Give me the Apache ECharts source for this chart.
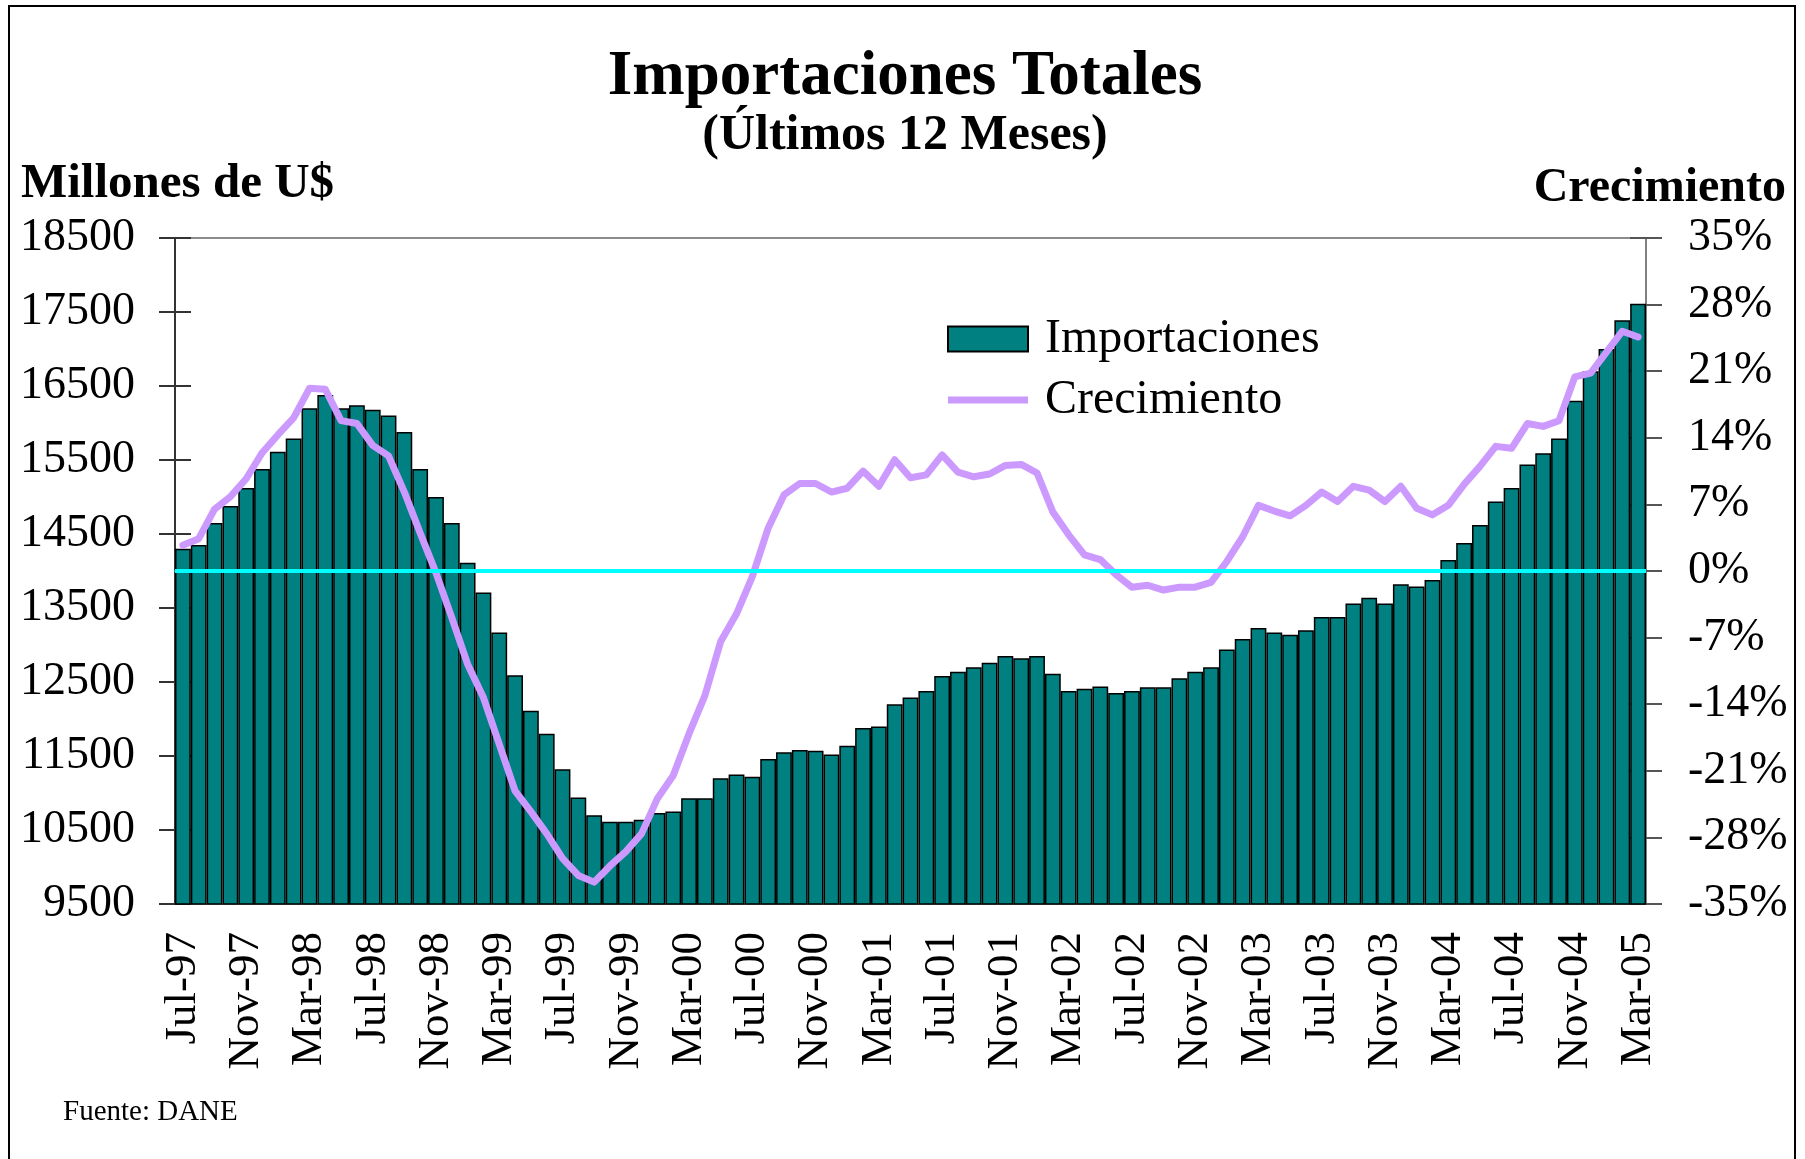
<!DOCTYPE html>
<html><head><meta charset="utf-8">
<script src="https://cdn.jsdelivr.net/npm/echarts@6/dist/echarts.min.js"></script>
<style>html,body{margin:0;padding:0;background:#fff}#c{width:1805px;height:1159px}</style>
</head><body><div id="c"></div>
<script>
const categories = [
 'Jul-97','Ago-97','Sep-97','Oct-97','Nov-97','Dic-97',
 'Ene-98','Feb-98','Mar-98','Abr-98','May-98','Jun-98','Jul-98','Ago-98','Sep-98','Oct-98','Nov-98','Dic-98',
 'Ene-99','Feb-99','Mar-99','Abr-99','May-99','Jun-99','Jul-99','Ago-99','Sep-99','Oct-99','Nov-99','Dic-99',
 'Ene-00','Feb-00','Mar-00','Abr-00','May-00','Jun-00','Jul-00','Ago-00','Sep-00','Oct-00','Nov-00','Dic-00',
 'Ene-01','Feb-01','Mar-01','Abr-01','May-01','Jun-01','Jul-01','Ago-01','Sep-01','Oct-01','Nov-01','Dic-01',
 'Ene-02','Feb-02','Mar-02','Abr-02','May-02','Jun-02','Jul-02','Ago-02','Sep-02','Oct-02','Nov-02','Dic-02',
 'Ene-03','Feb-03','Mar-03','Abr-03','May-03','Jun-03','Jul-03','Ago-03','Sep-03','Oct-03','Nov-03','Dic-03',
 'Ene-04','Feb-04','Mar-04','Abr-04','May-04','Jun-04','Jul-04','Ago-04','Sep-04','Oct-04','Nov-04','Dic-04',
 'Ene-05','Feb-05','Mar-05'
];
const importaciones = [
 14300,14350,14650,14880,15120,15380,
 15610,15790,16200,16380,16200,16240,16180,16100,15880,15380,15000,14650,
 14110,13710,13170,12590,12110,11800,11320,10940,10700,10610,10610,10640,
 10730,10750,10930,10930,11200,11250,11220,11460,11550,11580,11570,11520,
 11640,11880,11900,12200,12290,12380,12580,12640,12700,12760,12850,12820,
 12850,12610,12380,12410,12440,12350,12380,12430,12430,12550,12640,12700,
 12940,13080,13230,13170,13140,13200,13380,13380,13560,13640,13560,13820,
 13790,13880,14150,14380,14620,14940,15120,15440,15590,15790,16300,16700,
 17000,17390,17610
];
const crecimiento = [
 2.7,3.4,6.5,7.8,9.7,12.4,
 14.3,16.1,19.2,19.1,15.8,15.5,13.2,12.1,8.3,4.0,-0.2,-4.9,
 -9.8,-13.3,-18.2,-23.1,-25.3,-27.6,-30.2,-32.0,-32.7,-31.0,-29.5,-27.6,
 -23.9,-21.5,-17.1,-13.1,-7.4,-4.5,-0.6,4.5,8.0,9.2,9.2,8.3,
 8.7,10.5,8.9,11.7,9.8,10.1,12.2,10.4,9.9,10.2,11.1,11.2,
 10.3,6.2,3.8,1.7,1.2,-0.4,-1.7,-1.5,-2.0,-1.7,-1.7,-1.2,
 1.0,3.6,6.9,6.3,5.8,6.9,8.3,7.3,8.9,8.5,7.3,8.9,
 6.6,5.9,6.9,9.1,11.0,13.1,12.9,15.5,15.2,15.8,20.4,20.8,
 23.0,25.2,24.6
];
const leftTicks = [9500,10500,11500,12500,13500,14500,15500,16500,17500,18500];
const rightTicks = [-35,-28,-21,-14,-7,0,7,14,21,28,35];
const zeroLine = 0;

const FONT = '"Liberation Serif", "Times New Roman", serif';
const chart = echarts.init(document.getElementById('c'));

function txt(text, x, y, size, bold, align) {
  return {
    type: 'text', x: x, y: y, silent: true,
    style: {
      text: text, fill: '#000',
      font: (bold ? 'bold ' : '') + size + 'px ' + FONT,
      textAlign: align, align: align,
      textVerticalAlign: 'middle', verticalAlign: 'middle'
    }
  };
}

const option = {
  animation: false,
  backgroundColor: '#fff',
  grid: { left: 175, right: 159, top: 238, bottom: 255, show: true,
          borderColor: '#8c8c8c', borderWidth: 2, backgroundColor: 'transparent' },
  legend: {
    orient: 'vertical', left: 942, top: 310,
    itemWidth: 80, itemHeight: 25, itemGap: 13,
    textStyle: { fontSize: 48, fontFamily: FONT, color: '#000', padding: [0, 0, 0, 12] },
    data: [
      { name: 'Importaciones', icon: 'rect' },
      { name: 'Crecimiento', icon: 'path://M0,0 M0,25 M0,9 L80,9 L80,16 L0,16 Z' }
    ]
  },
  xAxis: {
    type: 'category', data: categories, boundaryGap: true,
    axisLine: { lineStyle: { color: '#808080', width: 2 } },
    axisTick: { show: false },
    axisLabel: { interval: 3, rotate: 90, margin: 28, fontSize: 45,
                 fontFamily: FONT, color: '#000' }
  },
  yAxis: [
    { type: 'value', position: 'left', min: 9500, max: 18500,
      axisLine: { show: true, lineStyle: { color: '#333', width: 2 } },
      axisTick: { show: true, length: 16, customValues: leftTicks,
                  lineStyle: { color: '#333', width: 2 } },
      axisLabel: { customValues: leftTicks, margin: 40, fontSize: 46,
                   fontFamily: FONT, color: '#000',
                   formatter: function (v) { return String(v); } },
      splitLine: { show: false } },
    { type: 'value', position: 'right', min: -35, max: 35, interval: 7,
      axisLine: { show: true, lineStyle: { color: '#808080', width: 2 } },
      axisTick: { show: true, length: 16, lineStyle: { color: '#555', width: 2 } },
      axisLabel: { formatter: '{value}%', margin: 42, fontSize: 46,
                   fontFamily: FONT, color: '#000' },
      splitLine: { show: false } },
    { type: 'value', position: 'left', min: 9500, max: 18500,
      axisLine: { show: false },
      axisTick: { show: true, inside: true, length: 16, customValues: leftTicks,
                  lineStyle: { color: '#333', width: 2 } },
      axisLabel: { show: false }, splitLine: { show: false } },
    { type: 'value', position: 'right', min: -35, max: 35, interval: 7,
      axisLine: { show: false },
      axisTick: { show: true, inside: true, length: 16,
                  lineStyle: { color: '#555', width: 2 } },
      axisLabel: { show: false }, splitLine: { show: false } }
  ],
  series: [
    { name: 'Importaciones', type: 'bar', data: importaciones, yAxisIndex: 0,
      barCategoryGap: '0%',
      itemStyle: { color: '#008080', borderColor: '#000', borderWidth: 1.5 }, z: 2 },
    { name: 'cero', type: 'line', yAxisIndex: 1, data: [], z: 3,
      markLine: { silent: true, symbol: 'none', label: { show: false },
                  lineStyle: { color: '#00FFFF', width: 4, type: 'solid' },
                  data: [ { yAxis: zeroLine } ] } },
    { name: 'Crecimiento', type: 'line', yAxisIndex: 1, data: crecimiento,
      symbol: 'none', z: 4,
      lineStyle: { color: '#CC99FF', width: 7, cap: 'round', join: 'round' },
      itemStyle: { color: '#CC99FF' } }
  ],
  graphic: [
    { type: 'rect', silent: true, z: -10,
      shape: { x: 9, y: 6, width: 1786, height: 1170 },
      style: { fill: 'none', stroke: '#000', lineWidth: 2 } },
    txt('Importaciones Totales', 905, 78, 63, true, 'center'),
    txt('(Últimos 12 Meses)', 905, 136, 50, true, 'center'),
    txt('Millones de U$', 21, 184, 49, true, 'left'),
    txt('Crecimiento', 1786, 189, 48, true, 'right'),
    txt('Fuente: DANE', 63, 1112, 29, false, 'left')
  ]
};
chart.setOption(option);
</script>
</body></html>
